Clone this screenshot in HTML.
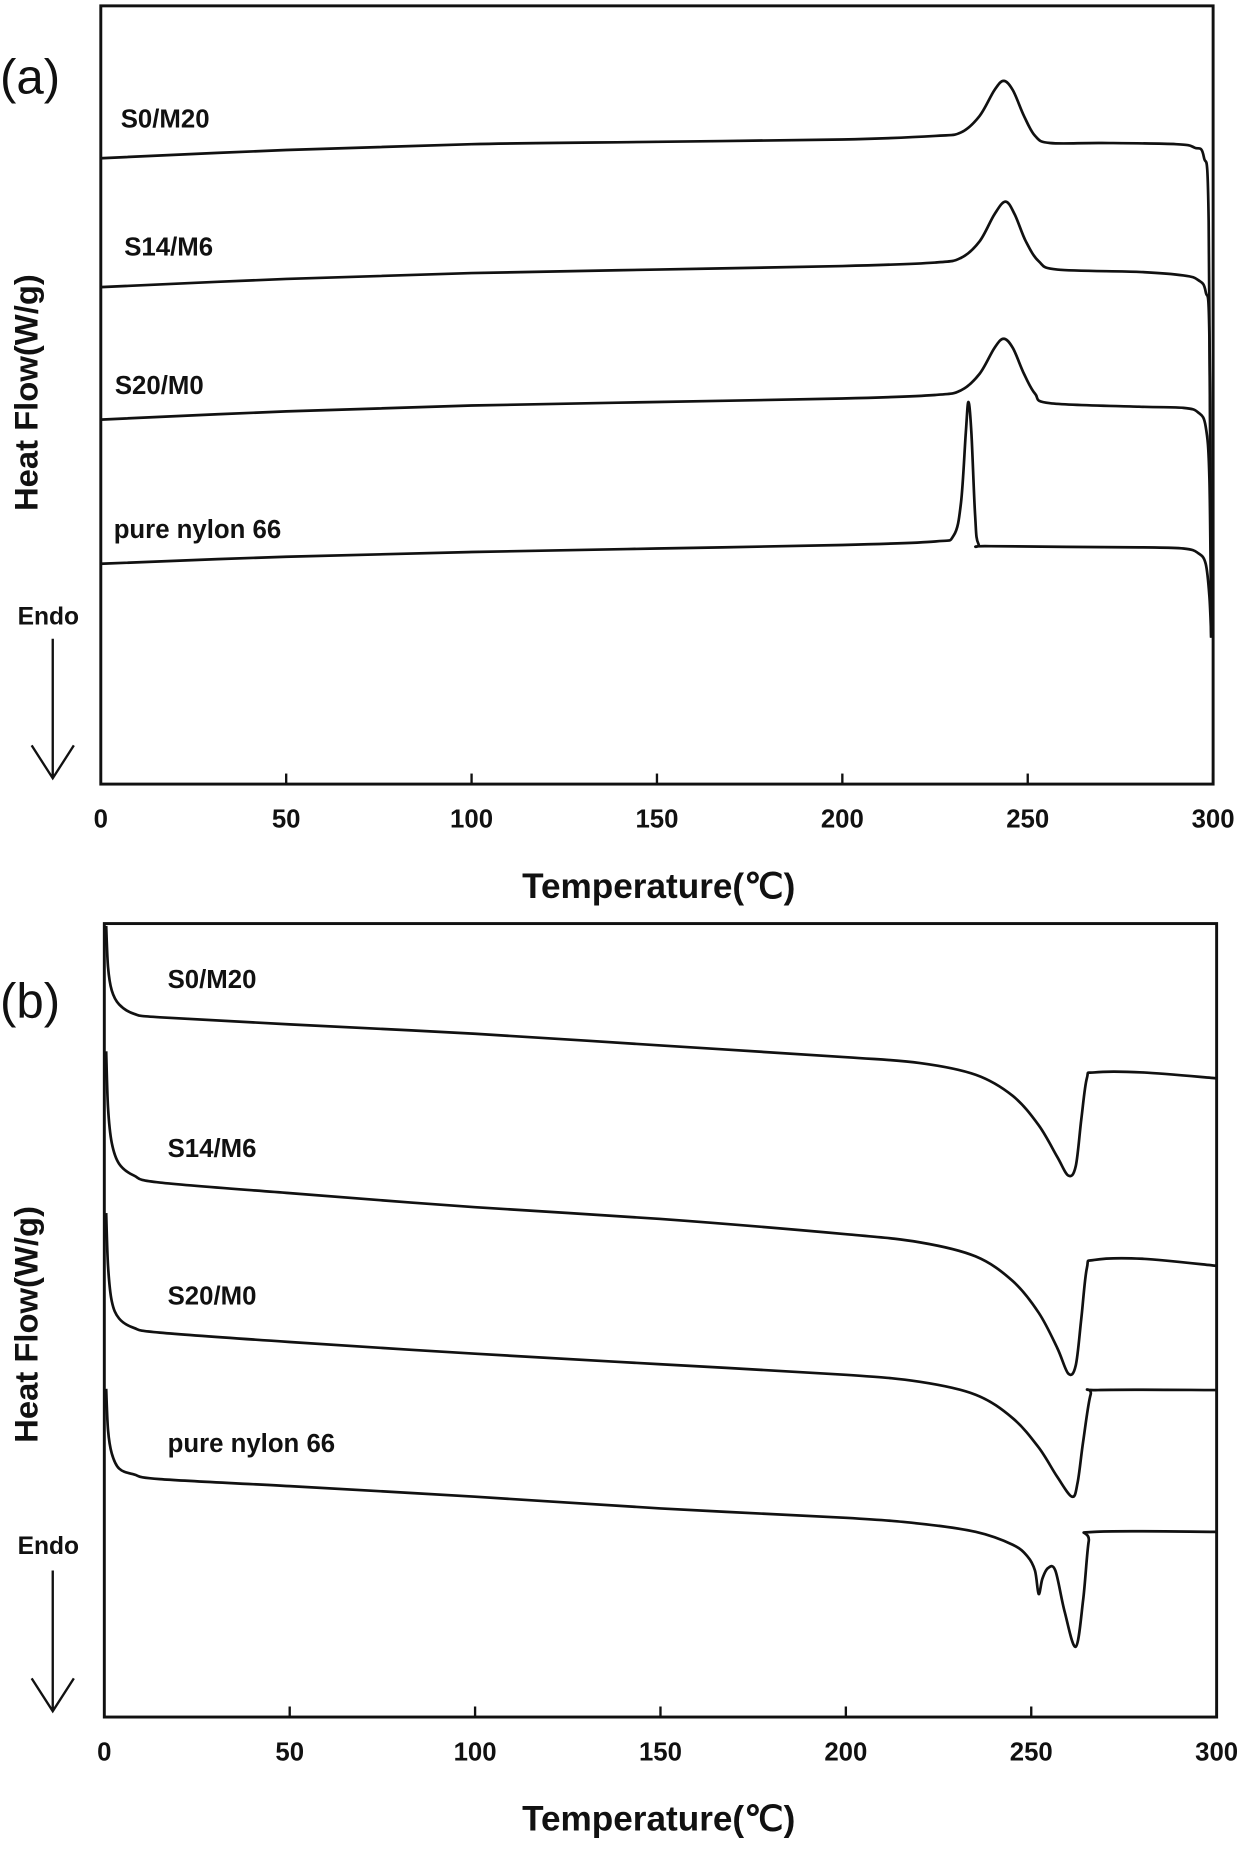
<!DOCTYPE html>
<html><head><meta charset="utf-8"><style>
html,body{margin:0;padding:0;background:#fff;}
svg{display:block;}
text{font-family:"Liberation Sans",Arial,sans-serif;fill:#111;}
</style></head><body>
<svg id="chart" width="1260" height="1853" viewBox="0 0 1075 1581" preserveAspectRatio="none" xmlns="http://www.w3.org/2000/svg"></svg>
<script>
const xTicks=[0,50,100,150,200,250,300];
const seriesNames=["S0/M20","S14/M6","S20/M0","pure nylon 66"];
// Panel (a) cooling curves: [temperature, heat flow (arb.)]
const aS0M20=[[0,534],[50,541],[100,546],[150,548],[200,550],[225,553],[232,556],[237,570],[241,592],[243.5,600],[246,592],[249,570],[252,553],[256,547],[270,547],[290,546],[295,543],[297.5,535],[298.8,480],[299.5,125]];
const aS14M6=[[0,424],[50,431],[100,436],[150,439],[200,442],[225,445],[232,449],[237,463],[241,486],[244,497],[246.5,486],[249.5,463],[253,446],[258,439],[280,437],[292,434],[296,430],[298,420],[299,380],[299.5,125]];
const aS20M0=[[0,311],[50,318],[100,323],[150,326],[200,329],[225,332],[232,336],[237,350],[241,372],[243.5,380],[246,372],[249,350],[252,333],[256,325],[280,322],[292,321],[296,317],[298,305],[299,260],[299.5,125]];
const aPure=[[0,188],[50,194],[100,198],[150,201],[200,204],[225,207],[230,212],[232,240],[233.3,300],[234,326],[234.8,300],[235.8,230],[236.7,205],[240,203],[280,202],[292,201],[296,197],[298,188],[299,160],[299.5,125]];
// Panel (b) heating curves
const bS0M20=[[0.5,675],[1,640],[2,620],[4,608],[8,600],[15,597],[50,591],[100,583],[150,573],[200,563],[220,558],[235,548],[245,530],[252,505],[257,478],[260,462],[262,470],[263.5,510],[265,545],[267,550],[280,550],[300,545]];
const bS14M6=[[0.5,568],[1,520],[2,490],[4,472],[8,462],[15,456],[50,447],[100,435],[150,425],[200,412],[220,405],[235,393],[245,372],[252,345],[257,315],[260,293],[262,300],[263.5,340],[265,383],[267,390],[280,391],[300,385]];
const bS20M0=[[0.5,430],[1,385],[2,355],[4,340],[8,332],[15,328],[50,320],[100,310],[150,301],[200,292],[220,286],[235,275],[245,255],[252,230],[257,205],[261,188],[262.5,200],[264,235],[266,275],[268,279],[300,279]];
const bPure=[[0.5,280],[1,245],[2,225],[4,212],[8,207],[15,203],[50,197],[100,188],[150,178],[200,170],[220,165],[235,158],[245,147],[249,137],[251,125],[252,105],[253,118],[254.5,127],[256.5,125],[259,90],[262,60],[264,100],[265.5,150],[267,158],[300,158]];

const NS="http://www.w3.org/2000/svg";
const svg=document.getElementById('chart');
function mk(tag,attrs,parent){const e=document.createElementNS(NS,tag);for(const k in attrs)e.setAttribute(k,attrs[k]);(parent||svg).appendChild(e);return e;}
function smooth(P){
  let d='M'+P[0][0].toFixed(2)+' '+P[0][1].toFixed(2);
  for(let i=0;i<P.length-1;i++){
    const p0=P[Math.max(0,i-1)],p1=P[i],p2=P[i+1],p3=P[Math.min(P.length-1,i+2)];
    const c1=[p1[0]+(p2[0]-p0[0])/6,p1[1]+(p2[1]-p0[1])/6];
    const c2=[p2[0]-(p3[0]-p1[0])/6,p2[1]-(p3[1]-p1[1])/6];
    d+=` C${c1[0].toFixed(2)} ${c1[1].toFixed(2)} ${c2[0].toFixed(2)} ${c2[1].toFixed(2)} ${p2[0].toFixed(2)} ${p2[1].toFixed(2)}`;
  }
  return d;
}

const panels=[
 {id:'a',L:86,R:1035,T:5,B:669,ymax:664,series:[aS0M20,aS14M6,aS20M0,aPure],
  labels:[[103,101],[106,210],[98,328],[97,451]],tag:[0,64],ylab:335,endo:525,arrow:[545,664],tickY:698,titleY:755},
 {id:'b',L:89,R:1038,T:788,B:1465,ymax:677,series:[bS0M20,bS14M6,bS20M0,bPure],
  labels:[[143,835],[143,979],[143,1105],[143,1231]],tag:[0,852],ylab:1130,endo:1318,arrow:[1340,1460],tickY:1494,titleY:1551}
];

panels.forEach(p=>{
  const g=mk('g',{});
  
  
  const xs=t=>p.L+(t-0)/(300-0)*(p.R-p.L);
  const ys=v=>p.B-v/p.ymax*(p.B-p.T);
  const box=mk('rect',{x:p.L,y:p.T,width:p.R-p.L,height:p.B-p.T,fill:'none',stroke:'#111','stroke-width':2.5},g);
  
  
  xTicks.forEach(t=>{
    const tk=mk('line',{x1:xs(t),x2:xs(t),y1:p.B,y2:p.B-9,stroke:'#111','stroke-width':2},g);
    
    
    const tl=mk('text',{x:xs(t),y:p.tickY+8,'text-anchor':'middle','font-size':22,'font-weight':'bold'},g);
    tl.textContent=t;
    
    
  });
  const xt=mk('text',{x:562,y:p.titleY+11,'text-anchor':'middle','font-size':30,'font-weight':'bold'},g);
  xt.textContent='Temperature(℃)';
  
  
  const yt=mk('text',{x:0,y:0,'text-anchor':'middle','font-size':28,'font-weight':'bold',transform:`translate(32,${p.ylab}) rotate(-90)`},g);
  yt.textContent='Heat Flow(W/g)';
  
  
  const tg=mk('text',{x:p.tag[0],y:p.tag[1]+16,'font-size':42},g);
  tg.textContent='('+p.id+')';
  
  
  const en=mk('text',{x:15,y:p.endo+8,'font-size':21,'font-weight':'bold'},g);
  en.textContent='Endo';
  
  
  const ar=mk('path',{d:`M45 ${p.arrow[0]} V${p.arrow[1]} M27 ${p.arrow[1]-28} L45 ${p.arrow[1]} L63 ${p.arrow[1]-28}`,fill:'none',stroke:'#111','stroke-width':2},g);
  
  
  p.series.forEach((s,i)=>{
    const pts=s.map(pt=>[xs(pt[0]),ys(pt[1])]);
    const path=mk('path',{d:smooth(pts),fill:'none',stroke:'#111','stroke-width':2.3,'stroke-linejoin':'round'},g);
    
    
    const lb=mk('text',{x:p.labels[i][0],y:p.labels[i][1]+8,'font-size':22,'font-weight':'bold'},g);
    lb.textContent=seriesNames[i];
    
    
  });
});
</script>
</body></html>
